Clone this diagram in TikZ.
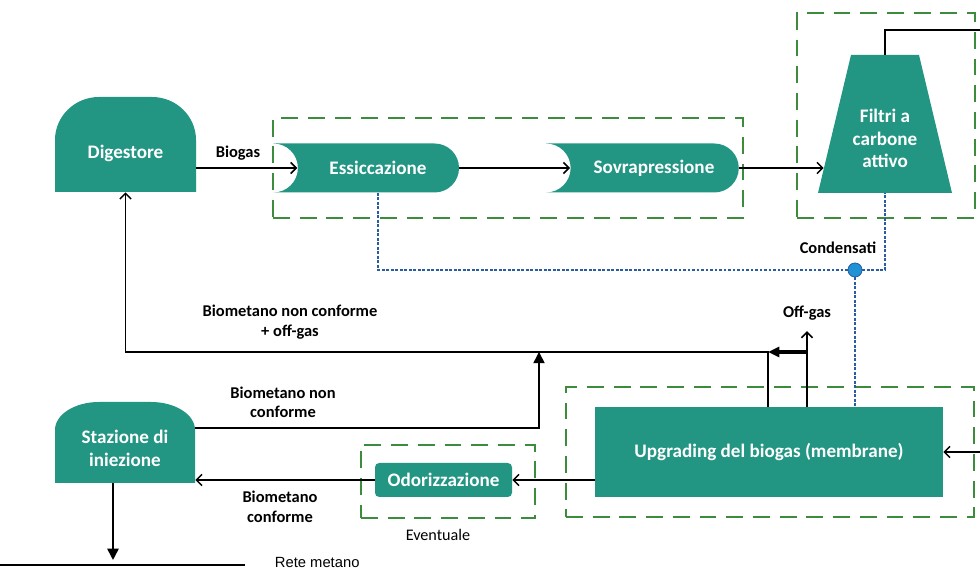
\documentclass[tikz,border=0pt]{standalone}
\usepackage{fontspec}
\setmainfont{Carlito}
\newfontfamily\arialfont{Liberation Sans}
\usetikzlibrary{arrows.meta,positioning,shapes.geometric,shapes.misc,calc}
\definecolor{procgreen}{HTML}{229683}
\definecolor{zonegreen}{HTML}{3D8B3D}
\definecolor{condblue}{HTML}{2A5D9F}
\definecolor{dotblue}{HTML}{1F93D6}

\begin{document}
\begin{tikzpicture}[
  proc/.style={fill=procgreen, text=white, font=\fontsize{13.6}{16}\selectfont\bfseries, align=center},
  stage/.style={proc, rounded rectangle, rounded rectangle west arc=concave, minimum height=1.225cm},
  dome/.style={rectangle, text=white, font=\fontsize{13.6}{16}\selectfont\bfseries, align=center,
    path picture={\fill[procgreen] (path picture bounding box.south west) -- ([yshift=-#1]path picture bounding box.north west)
      arc[start angle=180, end angle=90, x radius=1.1cm, y radius=#1] -- ([xshift=-1.1cm]path picture bounding box.north east)
      arc[start angle=90, end angle=0, x radius=1.1cm, y radius=#1] -- (path picture bounding box.south east) -- cycle;}},
  trap/.style={rectangle, text=white, font=\fontsize{13.6}{16}\selectfont\bfseries, align=center,
    path picture={\fill[procgreen] (path picture bounding box.south west) -- ([xshift=#1]path picture bounding box.north west)
      -- ([xshift=-#1]path picture bounding box.north east) -- (path picture bounding box.south east) -- cycle;}},
  zone/.style={rectangle, draw=zonegreen, line width=1.8pt, dash pattern=on 12pt off 7pt},
  lbl/.style={font=\fontsize{11.7}{14}\selectfont\bfseries, align=center},
  line/.style={line width=1.1pt},
  arr/.style={-{Straight Barb[length=4pt,width=8pt]}, line width=1.1pt},
  farr/.style={-{Triangle[length=8pt,width=8pt]}, line width=1.1pt},
  fatarr/.style={-{Triangle[length=8pt,width=7pt]}, line width=2.2pt},
  cond/.style={draw=condblue, line width=0.8pt, dash pattern=on 2pt off 1.2pt}
]
\useasboundingbox (0,0) rectangle (24.5,14.3);

% Groups
\node[zone, minimum width=11.75cm, minimum height=2.5cm] (dryzone) at (12.7,10.1) {};
\node[zone, minimum width=4.45cm, minimum height=5.125cm] (filtzone) at (22.15,11.4125) {};
\node[zone, minimum width=10.2cm, minimum height=3.25cm] (upgzone) at (19.25,3.0) {};
\node[zone, minimum width=4.35cm, minimum height=1.825cm] (odorzone) at (11.2,2.2625) {};

% Top line: biogas treatment
\node[dome=1.075cm, minimum width=3.525cm, minimum height=2.375cm, text height=22pt] (dig) at (3.1375,10.6875) {Digestore};
\node[stage, minimum width=4.875cm] (ess) at (9.45,10.1) {Essiccazione};
\node[stage, minimum width=5.05cm] (sovr) at (16.35,10.1) {Sovrapressione};
\node[trap=0.825cm, minimum width=3.35cm, minimum height=3.45cm, text height=62pt] (filt) at (22.125,11.2) {Filtri a\\carbone\\attivo};
\node[lbl] (biogaslbl) at (5.95,10.475) {Biogas};
\draw[arr] (dig.east |- ess.west) -- ([xshift=6mm]ess.west);
\draw[arr] (ess.east) -- ([xshift=6mm]sovr.west);
\draw[arr] (sovr.east) -- ([xshift=1.5mm]sovr.east -| filt.west);
\coordinate (filtout) at (24.5,13.55);
\draw[line] (filt.north) |- (filtout);

% Condensate
\node[circle, fill=dotblue, draw=condblue, line width=0.6pt, minimum size=0.35cm, inner sep=0pt] (dot) at (21.375,7.55) {};
\node[lbl] (condlbl) at (20.95,8.1) {Condensati};

% Upgrading
\node[proc, rectangle, minimum width=8.7cm, minimum height=2.25cm] (upg) at (19.225,3.0) {Upgrading del biogas (membrane)};
\coordinate (upgin) at (24.5,3.0);
\draw[arr] (upgin) -- (upg.east);
\draw[cond] (ess.south) |- (dot.west);
\draw[cond] (dot.east) -| (filt.south);
\draw[cond] (dot.south) -- (dot.south |- upg.north);

% Off-gas and recirculation
\node[lbl] (offlbl) at (20.175,6.475) {Off-gas};
\coordinate (jn) at (19.2,5.5);
\draw[arr] (upg.north -| offlbl) -- ([yshift=-1.5mm]offlbl.south);
\draw[fatarr] (offlbl |- jn) -- (jn);
\draw[arr] (upg.north -| jn) -- (jn) -| (dig.south);
\node[lbl] (retlbl) at (7.25,6.25) {Biometano non conforme\\+ off-gas};

% Injection
\node[dome=0.7cm, minimum width=3.5cm, minimum height=2.025cm, text height=34pt] (staz) at (3.125,3.2375) {Stazione di\\iniezione};
\node[proc, rectangle, rounded corners=3pt, minimum width=3.425cm, minimum height=0.85cm] (odor) at (11.0875,2.3) {Odorizzazione};
\coordinate (mrg) at (13.475,5.5);
\coordinate (mrgB) at (13.475,3.6);
\draw[farr] (staz.east |- mrgB) -- (mrgB) -- (mrg);
\draw[arr] (upg.west |- odor) -- (odor.east);
\draw[arr] (odor.west) -- (odor.west -| staz.east);
\node[lbl] (nclbl) at (7.075,4.24) {Biometano non\\conforme};
\node[lbl] (conflbl) at (7.0,1.625) {Biometano\\conforme};
\node[font=\fontsize{11.5}{14}\selectfont] (evlbl) at (10.95,0.925) {Eventuale};

% Gas grid
\coordinate (reteW) at (0,0.175);
\coordinate (reteE) at (6.125,0.175);
\coordinate (tap) at (2.825,0.3);
\draw[line] (reteW) -- (reteE);
\draw[farr] (staz.south -| tap) -- (tap);
\node[anchor=west, font=\arialfont\fontsize{10.5}{12}\selectfont] (retelbl) at (6.75,0.225) {Rete metano};

\end{tikzpicture}
\end{document}
